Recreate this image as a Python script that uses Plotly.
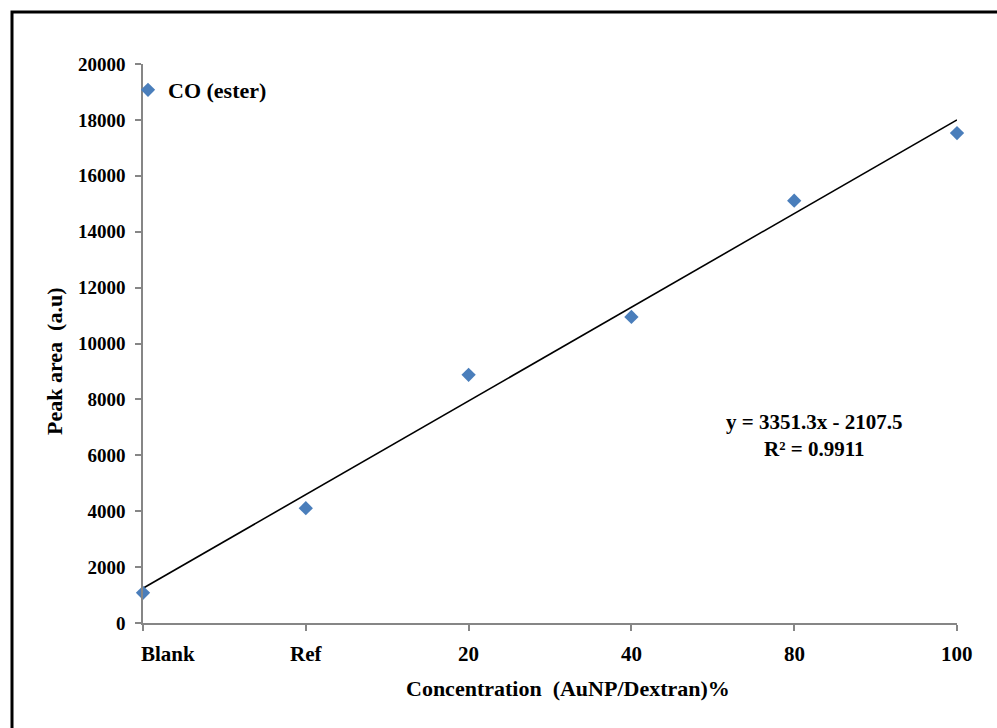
import plotly.graph_objects as go
import numpy as np

categories = ["Blank", "Ref", "20", "40", "80", "100"]
peak_area = [1080, 4110, 8880, 10950, 15110, 17530]
fit_slope = 3351.3
fit_intercept = -2107.5
r_squared = 0.9911
y_ticks = [0, 2000, 4000, 6000, 8000, 10000, 12000, 14000, 16000, 18000, 20000]

x_pos = list(range(1, len(categories) + 1))
x_fit = np.array([x_pos[0], x_pos[-1]], dtype=float)
y_fit = fit_slope * x_fit + fit_intercept

FONT = "Liberation Serif"
AX = "#868686"

fig = go.Figure()
fig.add_trace(go.Scatter(x=x_fit, y=y_fit, mode="lines", line=dict(color="black", width=1.6),
                         showlegend=False, hoverinfo="skip", cliponaxis=False))
fig.add_trace(go.Scatter(x=x_pos, y=peak_area, mode="markers", name="<b>CO (ester)</b>",
                         marker=dict(symbol="diamond", size=11, color="#4A7EBB"), cliponaxis=False))

W, H = 997, 728
L, R, T, B = 143, 40, 64, 105
pw, ph = W - L - R, H - T - B

def px(xp):
    return (xp - L) / pw

def py(yp):
    return (H - B - yp) / ph

annotations = []
for i, c in zip(x_pos, categories):
    if i == 1:
        annotations.append(dict(x=i, y=py(640), xref="x", yref="paper", text="<b>%s</b>" % c,
                                showarrow=False, xanchor="left", yanchor="top", xshift=-4,
                                font=dict(family=FONT, size=21, color="black")))
    else:
        annotations.append(dict(x=i, y=py(640), xref="x", yref="paper", text="<b>%s</b>" % c,
                                showarrow=False, xanchor="center", yanchor="top",
                                font=dict(family=FONT, size=21, color="black")))

annotations.append(dict(x=px(568), y=py(688), xref="paper", yref="paper",
                        text="<b>Concentration  (AuNP/Dextran)%</b>", showarrow=False,
                        xanchor="center", yanchor="middle",
                        font=dict(family=FONT, size=22, color="black")))
annotations.append(dict(x=px(55), y=py(362), xref="paper", yref="paper",
                        text="<b>Peak area  (a.u)</b>", showarrow=False, textangle=-90,
                        xanchor="center", yanchor="middle",
                        font=dict(family=FONT, size=22, color="black")))
annotations.append(dict(x=px(814), y=py(435), xref="paper", yref="paper",
                        text="<b>y = %.1fx - %.1f<br>R² = %.4f</b>" % (fit_slope, -fit_intercept, r_squared),
                        showarrow=False, xanchor="center", yanchor="middle", align="center",
                        font=dict(family=FONT, size=21, color="black")))

fig.update_layout(
    width=W, height=H,
    margin=dict(l=L, r=R, t=T, b=B),
    paper_bgcolor="white", plot_bgcolor="white",
    font=dict(family=FONT, color="black"),
    showlegend=True,
    legend=dict(x=px(128), y=py(69), xanchor="left", yanchor="top",
                font=dict(family=FONT, size=22, color="black"),
                bgcolor="rgba(0,0,0,0)", itemwidth=30, tracegroupgap=0),
    xaxis=dict(range=[1, 6], tickvals=x_pos, ticktext=[""] * len(x_pos), showgrid=False, zeroline=False,
               showline=True, linecolor=AX, linewidth=1.5, ticks="outside", ticklen=6,
               tickcolor=AX, tickwidth=1.5),
    yaxis=dict(range=[0, 20000], tickvals=y_ticks, ticktext=["<b>%d</b>" % v for v in y_ticks],
               showgrid=False, zeroline=False, showline=True, linecolor=AX, linewidth=1.5,
               ticks="outside", ticklen=6, tickcolor=AX, tickwidth=1.5,
               tickfont=dict(family=FONT, size=19, color="black"), ticklabelstandoff=6),
    annotations=annotations,
    shapes=[dict(type="rect", xref="paper", yref="paper",
                 x0=px(12), x1=px(1010), y0=py(740), y1=py(12),
                 line=dict(color="black", width=3), fillcolor="rgba(0,0,0,0)", layer="below")],
)

fig.write_html("out.html")
